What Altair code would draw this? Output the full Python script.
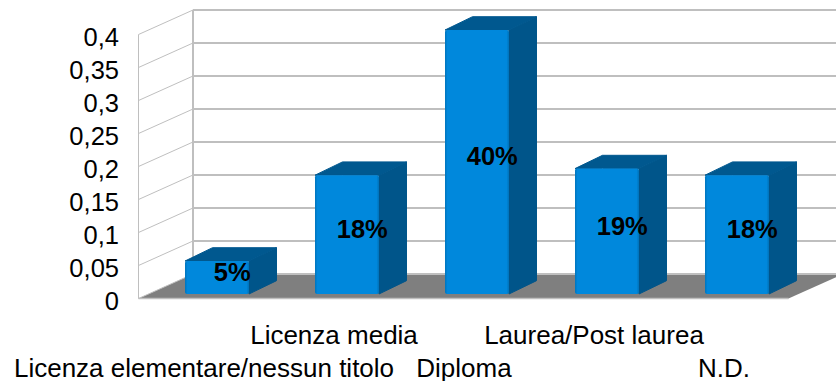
import json
import altair as alt
import pandas as pd

# Chart values
categories = ["Licenza elementare/nessun titolo", "Licenza media", "Diploma",
              "Laurea/Post laurea", "N.D."]
shares = [0.05, 0.18, 0.40, 0.19, 0.18]
share_labels = ["5%", "18%", "40%", "19%", "18%"]
y_ticks = [0, 0.05, 0.1, 0.15, 0.2, 0.25, 0.3, 0.35, 0.4]

# Pseudo-3D box model, x in category slots and y in axis units
PX_PER_SLOT = 130
PX_PER_UNIT = 660
WALL_DX = 54.5 / PX_PER_SLOT
WALL_DY = 24.5 / PX_PER_UNIT
BAR_WIDTH = 64 / PX_PER_SLOT
BAR_LEFT = 46.5 / PX_PER_SLOT
BAR_DX = 27.5 / PX_PER_SLOT
BAR_DY = 13.3 / PX_PER_UNIT
BAR_BASE = 4.5 / PX_PER_UNIT
LABEL_DROP = 2.0 / PX_PER_UNIT
LABEL_SHIFT = 1.5 / PX_PER_SLOT
N = len(categories)

x_scale = alt.Scale(domain=[0, N], nice=False, zero=False)
y_scale = alt.Scale(domain=[-1.5 / PX_PER_UNIT, 298.5 / PX_PER_UNIT], nice=False, zero=False)

front, side, top, labels = [], [], [], []
for i, v in enumerate(shares):
    xl = i + BAR_LEFT
    xr = xl + BAR_WIDTH
    y0 = BAR_BASE
    y1 = BAR_BASE + v
    front.append({"x": xl, "x2": xr, "y": y1, "y2": y0})
    side += [
        {"bar": i, "x": xr, "y": y1, "y2": y0},
        {"bar": i, "x": xr + BAR_DX, "y": y1 + BAR_DY, "y2": y0 + BAR_DY},
    ]
    top += [
        {"bar": i, "x": xl, "y": y1, "y2": y1},
        {"bar": i, "x": xl + BAR_DX, "y": y1 + BAR_DY, "y2": y1},
        {"bar": i, "x": xr, "y": y1 + BAR_DY, "y2": y1},
        {"bar": i, "x": xr + BAR_DX, "y": y1 + BAR_DY, "y2": y1 + BAR_DY},
    ]
    labels.append({"x": (xl + xr + BAR_DX) / 2 + LABEL_SHIFT,
                   "y": (y0 + y1 + BAR_DY) / 2 - LABEL_DROP,
                   "text": share_labels[i]})

floor = pd.DataFrame([
    {"x": 0, "y": 0, "y2": 0},
    {"x": WALL_DX, "y": WALL_DY, "y2": 0},
    {"x": N, "y": WALL_DY, "y2": 0},
    {"x": N + WALL_DX, "y": WALL_DY, "y2": WALL_DY},
])

diagonals = pd.DataFrame(
    [{"tick": t, "x": 0, "y": t} for t in y_ticks]
    + [{"tick": t, "x": WALL_DX, "y": t + WALL_DY} for t in y_ticks]
)
back_lines = pd.DataFrame(
    [{"x": WALL_DX, "x2": N + WALL_DX, "y": t + WALL_DY} for t in y_ticks]
)
wall_edges = pd.DataFrame([
    {"x": 0, "y": 0, "y2": max(y_ticks), "w": 1},
    {"x": WALL_DX, "y": WALL_DY, "y2": max(y_ticks) + WALL_DY, "w": 2},
])

GRID = "#BFBFBF"

cat_json = json.dumps(categories)
x_label_expr = (
    f"floor(datum.value) % 2 == 1 ? [{cat_json}[floor(datum.value)], ''] "
    f": ['', {cat_json}[floor(datum.value)]]"
)
x_axis = alt.Axis(
    values=[i + 0.5 for i in range(N)], labelExpr=x_label_expr, title=None,
    domain=False, ticks=False, grid=False, labelOverlap=False, labelBound=False,
    labelFlush=False, labelFont="Liberation Sans", labelFontSize=26, labelColor="#000000",
    labelLineHeight=33, labelPadding=22, labelBaseline="top", labelAlign="center",
    labelLimit=0,
)
y_axis = alt.Axis(
    values=y_ticks, labelExpr="replace(toString(datum.value), '.', ',')", title=None,
    domain=False, ticks=False, grid=False, labelFont="Liberation Sans", labelFontSize=25.5,
    labelColor="#000000", labelPadding=20, labelOverlap=False, labelBound=False,
    labelOffset=3,
)
X = alt.X("x:Q", scale=x_scale, axis=x_axis)
Y = alt.Y("y:Q", scale=y_scale, axis=y_axis)

floor_layer = alt.Chart(floor).mark_area(color="#7F7F7F", opacity=1).encode(
    x=X, y=Y, y2="y2:Q",
)
floor_edge = alt.Chart(pd.DataFrame([{"x": 0, "x2": N, "y": 0}])).mark_rule(
    color=GRID, strokeWidth=1.5
).encode(x=X, x2="x2:Q", y=Y)
diag_layer = alt.Chart(diagonals).mark_line(color=GRID, strokeWidth=1).encode(
    x=X, y=Y, detail="tick:N"
)
back_layer = alt.Chart(back_lines).mark_rule(color=GRID, strokeWidth=2).encode(
    x=X, x2="x2:Q", y=Y
)
edge_layer = alt.Chart(wall_edges).mark_rule(color=GRID).encode(
    x=X, y=Y, y2="y2:Q",
    strokeWidth=alt.StrokeWidth("w:Q", scale=None, legend=None),
)
side_layer = alt.Chart(pd.DataFrame(side)).mark_area(
    color="#00558A", opacity=1, stroke="#00558A", strokeWidth=1, strokeJoin="round"
).encode(x=X, y=Y, y2="y2:Q", detail="bar:N")
top_layer = alt.Chart(pd.DataFrame(top)).mark_area(
    color="#00588F", opacity=1, stroke="#00588F", strokeWidth=1, strokeJoin="round"
).encode(x=X, y=Y, y2="y2:Q", detail="bar:N")
front_fill = alt.Gradient(
    gradient="linear", x1=0, x2=1, y1=0, y2=0,
    stops=[
        alt.GradientStop(offset=0, color="#0074BC"),
        alt.GradientStop(offset=0.04, color="#0088DC"),
        alt.GradientStop(offset=0.96, color="#0088DC"),
        alt.GradientStop(offset=1, color="#0072B8"),
    ],
)
front_layer = alt.Chart(pd.DataFrame(front)).mark_bar(
    fill=front_fill, cornerRadius=2
).encode(x=X, x2="x2:Q", y=Y, y2="y2:Q")
text_layer = alt.Chart(pd.DataFrame(labels)).mark_text(
    font="Liberation Sans", fontSize=25.5, fontWeight="bold", color="#000000",
    align="center", baseline="middle",
).encode(x=X, y=Y, text="text:N")

chart = alt.layer(
    floor_layer, floor_edge, diag_layer, back_layer, edge_layer,
    side_layer, top_layer, front_layer, text_layer,
).properties(
    width=650, height=300,
    autosize=alt.AutoSizeParams(type="none"),
    padding={"left": 138.5, "right": 47.5, "top": 0, "bottom": 81},
    background="#FFFFFF",
).configure_view(stroke=None)

chart.save("out.html", embed_options={"renderer": "svg", "actions": False})
